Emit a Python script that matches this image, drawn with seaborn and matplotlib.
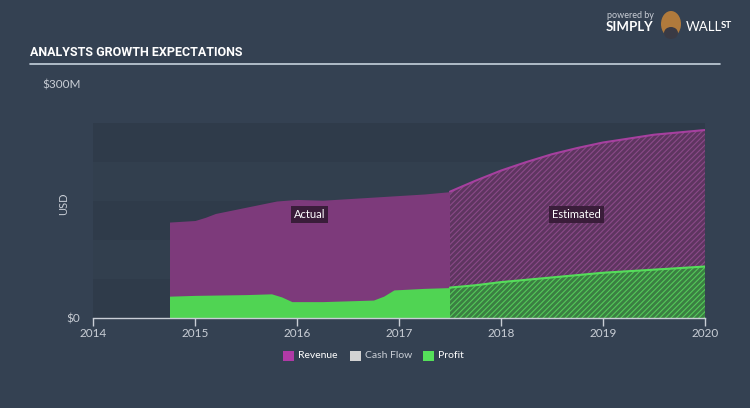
import numpy as np
import pandas as pd
import seaborn as sns
import matplotlib.pyplot as plt
from matplotlib.patches import Rectangle, Ellipse
from matplotlib import font_manager

# actual figures (fractional years, $M)
act_years = [2014.75, 2015.0, 2015.1, 2015.2, 2015.5, 2015.8, 2016.0, 2016.25, 2016.5, 2016.75, 2017.0, 2017.25, 2017.5]
act_revenue = [123, 125, 129, 134, 142, 150, 152, 151, 153, 155, 157, 159, 162]
prof_years = [2014.75, 2015.0, 2015.5, 2015.75, 2015.85, 2015.95, 2016.25, 2016.5, 2016.75, 2016.85, 2016.95, 2017.25, 2017.5]
act_profit = [28, 29, 30, 31, 27, 21, 21, 22, 23, 28, 36, 38, 39]

# analyst estimates
est_years = [2017.5, 2017.75, 2018.0, 2018.25, 2018.5, 2018.75, 2019.0, 2019.25, 2019.5, 2019.75, 2020.0]
est_revenue = [162, 176, 189, 200, 210, 218, 225, 230, 235, 238, 241]
est_profit = [39, 42, 46, 49, 52, 55, 58, 60, 62, 64, 66]

year_ticks = [2014, 2015, 2016, 2017, 2018, 2019, 2020]

bg = "#344152"
rev_col = "#7d3a7b"
prof_col = "#50d453"
grey_txt = "#c9ced6"

names = {f.name for f in font_manager.fontManager.ttflist}
title_fam = "Liberation Sans Narrow" if "Liberation Sans Narrow" in names else "Roboto"

sns.set_theme(style="dark")
plt.rcParams["font.family"] = ["Lato", "DejaVu Sans"]
plt.rcParams["hatch.linewidth"] = 0.8

fig = plt.figure(figsize=(7.5, 4.08), dpi=100, facecolor=bg)
ax = fig.add_axes([93 / 750, 90 / 408, 612 / 750, 234 / 408])
ax.set_facecolor(bg)
ax.set_xlim(2014, 2020)
ax.set_ylim(0, 300)

# background bands every $50M
for i, lo in enumerate(range(0, 250, 50)):
    ax.add_patch(Rectangle((2014, lo), 6, 50, facecolor="#2f3b4a" if i % 2 == 0 else "#323f4e",
                           edgecolor="none", zorder=0))

# actual areas
ax.fill_between(act_years, act_revenue, color=rev_col, lw=0, zorder=1)
ax.fill_between(prof_years, act_profit, color=prof_col, lw=0, zorder=2)

# estimated areas, hatched
ax.fill_between(est_years, est_revenue, facecolor="#5e3560", edgecolor="#8a4a88",
                hatch="//////", lw=0, zorder=1)
ax.fill_between(est_years, est_profit, facecolor="#3b7f42", edgecolor="#54c95a",
                hatch="//////", lw=0, zorder=2)

df_rev = pd.DataFrame({"year": est_years, "value": est_revenue})
df_prof = pd.DataFrame({"year": est_years, "value": est_profit})
sns.lineplot(data=df_rev, x="year", y="value", ax=ax, color="#a6409f", lw=1.5, zorder=3)
sns.lineplot(data=df_prof, x="year", y="value", ax=ax, color="#55dd5a", lw=1.5, zorder=3)

ax.text(2016.12, 133, "Actual", color="white", fontsize=8, ha="center", va="center", zorder=5,
        bbox=dict(boxstyle="square,pad=0.25", facecolor="#3a1d3a", edgecolor="none"))
ax.text(2018.74, 133, "Estimated", color="white", fontsize=8, ha="center", va="center", zorder=5,
        bbox=dict(boxstyle="square,pad=0.25", facecolor="#3a1d3a", edgecolor="none"))

# axes styling
for s in ["top", "right", "left"]:
    ax.spines[s].set_visible(False)
ax.spines["bottom"].set_color("#c9ced6")
ax.spines["bottom"].set_linewidth(1)
ax.set_xticks(year_ticks)
ax.set_xticklabels([str(y) for y in year_ticks], color=grey_txt, fontsize=8.5)
ax.tick_params(axis="x", length=6, width=1, color="#c9ced6", pad=1, bottom=True)
ax.set_yticks([0, 300])
ax.set_yticklabels(["$0", "$300M"], color=grey_txt, fontsize=8.5)
ax.tick_params(axis="y", length=0, pad=9)
ax.set_xlabel("")
ax.set_ylabel("USD", color=grey_txt, fontsize=8)
ax.yaxis.set_label_coords(-24 / 612, 0.49)
ax.grid(False)

# title and rule
fig.text(30 / 750, 1 - 53 / 408, "ANALYSTS GROWTH EXPECTATIONS", color="white", fontsize=9,
         fontweight="bold", family=[title_fam, "DejaVu Sans"], va="center")
fig.add_artist(plt.Line2D([30 / 750, 720 / 750], [1 - 64 / 408, 1 - 64 / 408], color="#c5d0dc", lw=1.2))

# branding
fig.text(607 / 750, 1 - 15 / 408, "powered by", color="#c9ced6", fontsize=6.5, va="center")
fig.text(606 / 750, 1 - 27 / 408, "SIMPLY", color="white", fontsize=9.5, fontweight="bold", va="center")
fig.add_artist(Ellipse((671 / 750, 1 - 24 / 408), 20 / 750, 26 / 408, facecolor="#b07a3c",
                       edgecolor="none", transform=fig.transFigure))
fig.add_artist(Ellipse((671 / 750, 1 - 33 / 408), 14 / 750, 12 / 408, facecolor="#3a3a44",
                       edgecolor="none", transform=fig.transFigure))
fig.text(686 / 750, 1 - 27 / 408, "WALL", color="white", fontsize=9.5, va="center")
fig.text(721 / 750, 1 - 26 / 408, "ST", color="white", fontsize=7, fontweight="bold", va="center")

# legend
items = [("Revenue", "#b03aa6", 283), ("Cash Flow", "#d3d3d3", 350), ("Profit", "#55e05a", 423)]
for name, col, px in items:
    fig.add_artist(Rectangle((px / 750, 1 - 361 / 408), 11 / 750, 10 / 408, facecolor=col,
                             edgecolor="none", transform=fig.transFigure))
    fig.text((px + 15) / 750, 1 - 356 / 408, name, color="white" if name != "Cash Flow" else grey_txt,
             fontsize=7.5, va="center")

fig.savefig("out.png", dpi=100, facecolor=bg)
